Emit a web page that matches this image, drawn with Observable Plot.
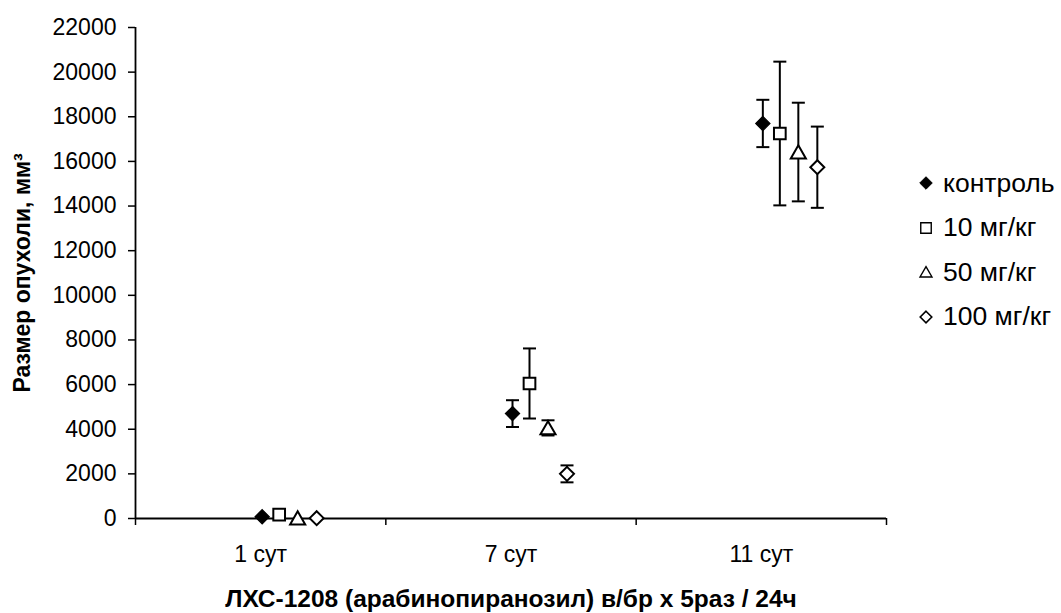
<!DOCTYPE html>
<html>
<head>
<meta charset="utf-8">
<script src="https://cdn.jsdelivr.net/npm/d3@7"></script>
<script src="https://cdn.jsdelivr.net/npm/@observablehq/plot@0.6"></script>
<style>
  html, body { margin: 0; padding: 0; background: #fff; }
  #wrap { position: relative; width: 1061px; height: 613px; font-family: "Liberation Sans", Arial, sans-serif; }
  #legend { position: absolute; left: 915px; top: 161px; }
  .row { display: flex; align-items: center; height: 44.5px; font-size: 26.5px; color: #000; white-space: nowrap; }
  .row svg { width: 22px; height: 22px; margin-right: 6px; flex: none; }
</style>
</head>
<body>
<div id="wrap"></div>
<script>
// Days after start of treatment
const days = ["1 сут", "7 сут", "11 сут"];

// Treatment groups
const groups = ["контроль", "10 мг/кг", "50 мг/кг", "100 мг/кг"];

// Mean tumour size, mm³, per group (one value per day)
const control  = [80, 4700, 17700];
const dose10   = [170, 6050, 17250];
const dose50   = [20, 4060, 16420];
const dose100  = [15, 2000, 15740];

// Error (±) per group and day
const controlErr = [0, 600, 1060];
const dose10Err  = [0, 1570, 3220];
const dose50Err  = [0, 340, 2210];
const dose100Err = [0, 380, 1820];

// Y axis tick values
const yTicks = [0, 2000, 4000, 6000, 8000, 10000, 12000, 14000, 16000, 18000, 20000, 22000];

const yTitle = "Размер опухоли, мм³";
const xTitle = "ЛХС-1208 (арабинопиранозил) в/бр х 5раз / 24ч";

const means = [control, dose10, dose50, dose100];
const errs = [controlErr, dose10Err, dose50Err, dose100Err];

// Long table: one row per group and day; x is the day slot centre
const rows = groups.flatMap((g, s) => days.map((d, i) => ({
  group: g, s, day: d, x: i + 0.5, v: means[s][i], e: errs[s][i]
})));

// Marker look per group, and its horizontal shift within the day slot
const look = [
  {symbol: "diamond2", fill: "black", r: 6.4, dx: 1.5, dy: 0},
  {symbol: "square",   fill: "white", r: 6.6, dx: 18.5, dy: 0},
  {symbol: "triangle", fill: "white", r: 5.6, dx: 37, dy: 2},
  {symbol: "diamond2", fill: "white", r: 6.3, dx: 56, dy: 0}
];

// Flat error-bar cap
const cap = {draw(ctx) { ctx.moveTo(-6.5, 0); ctx.lineTo(6.5, 0); }};

const marks = [
  Plot.axisY({ticks: yTicks, tickFormat: d => String(d), tickSize: 7, tickPadding: 12, strokeWidth: 1.5, fontSize: 23, label: null}),
  Plot.axisX({ticks: [0, 1, 2, 3], tickSize: 7, tickFormat: () => "", strokeWidth: 1.5, label: null}),
  Plot.axisX({ticks: [0.5, 1.5, 2.5], tickSize: 0, tickPadding: 27, tickFormat: d => days[Math.floor(d)], fontSize: 23, label: null}),
  Plot.ruleX([0], {stroke: "black", strokeWidth: 1.8}),
  Plot.ruleY([0], {stroke: "black", strokeWidth: 1.8}),
  Plot.text([yTitle], {text: d => d, frameAnchor: "left", dx: -122, rotate: -90, lineAnchor: "top", textAnchor: "middle", fontWeight: "bold", fontSize: 23}),
  Plot.text([xTitle], {text: d => d, frameAnchor: "bottom", dy: 88, lineAnchor: "bottom", textAnchor: "middle", fontWeight: "bold", fontSize: 24.5})
];

groups.forEach((g, s) => {
  const data = rows.filter(d => d.s === s);
  const withErr = data.filter(d => d.e > 0);
  const L = look[s];
  marks.push(
    Plot.ruleX(withErr, {x: "x", y1: d => d.v - d.e, y2: d => d.v + d.e, dx: L.dx, stroke: "black", strokeWidth: 2}),
    Plot.dot(withErr, {x: "x", y: d => d.v - d.e, dx: L.dx, symbol: cap, fill: "none", stroke: "black", strokeWidth: 2}),
    Plot.dot(withErr, {x: "x", y: d => d.v + d.e, dx: L.dx, symbol: cap, fill: "none", stroke: "black", strokeWidth: 2}),
    Plot.dot(data, {x: "x", y: "v", dx: L.dx, dy: L.dy, symbol: L.symbol, r: L.r, fill: L.fill, stroke: "black", strokeWidth: s === 0 ? 1.2 : 2})
  );
});

const chart = Plot.plot({
  width: 1061,
  height: 613,
  marginLeft: 135,
  marginRight: 175,
  marginTop: 27,
  marginBottom: 95,
  style: {background: "white", color: "black", fontFamily: "\"Liberation Sans\", Arial, sans-serif", fontSize: "22px"},
  x: {type: "linear", domain: [0, 3]},
  y: {domain: [0, 22000]},
  marks
});

const wrap = document.getElementById("wrap");
wrap.appendChild(chart);

// Legend: one row per group with its marker
const legendLook = [
  {type: d3.symbolDiamond2, size: 100, fill: "black", sw: 1},
  {type: d3.symbolSquare, size: 110, fill: "white", sw: 1.4},
  {type: d3.symbolTriangle, size: 62, fill: "white", sw: 1.4},
  {type: d3.symbolDiamond2, size: 85, fill: "white", sw: 1.6}
];
const legend = d3.select(wrap).append("div").attr("id", "legend");
groups.forEach((g, s) => {
  const row = legend.append("div").attr("class", "row");
  const svg = row.append("svg").attr("viewBox", "-11 -11 22 22");
  const L = legendLook[s];
  svg.append("path")
    .attr("d", d3.symbol(L.type, L.size)())
    .attr("transform", L.type === d3.symbolTriangle ? "translate(0,1.5)" : null)
    .attr("fill", L.fill).attr("stroke", "black").attr("stroke-width", L.sw);
  row.append("span").text(g);
});
</script>
</body>
</html>
